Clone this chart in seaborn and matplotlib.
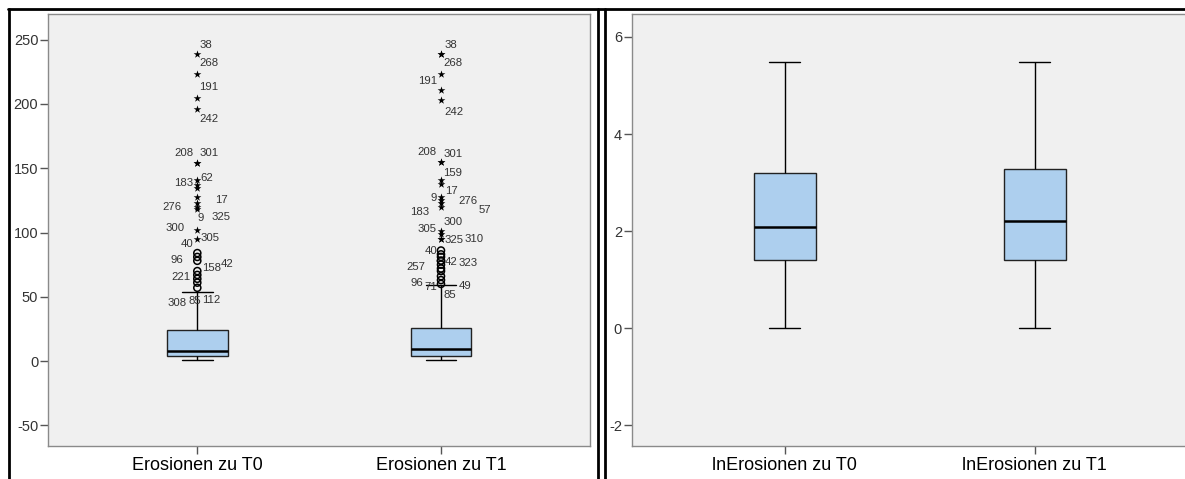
import numpy as np
import pandas as pd
import matplotlib
matplotlib.use("Agg")
import matplotlib.pyplot as plt
import seaborn as sns
from matplotlib.lines import Line2D

# ---------------- data ----------------
raw_categories = ["Erosionen zu T0", "Erosionen zu T1"]
ln_categories = ["lnErosionen zu T0", "lnErosionen zu T1"]

# five-number summaries: [lower whisker, Q1, median, Q3, upper whisker]
raw_t0_summary = [1, 4, 8, 24, 54]
raw_t1_summary = [1, 4, 9, 26, 59]
ln_t0_summary = [0.0, 1.40, 2.09, 3.19, 5.48]
ln_t1_summary = [0.0, 1.40, 2.21, 3.27, 5.48]

# extreme values (stars) and outliers (circles)
raw_t0_extremes = [239, 223, 205, 196, 154, 154, 141, 137, 135, 128, 123, 120, 118, 102, 95]
raw_t0_outliers = [84, 81, 78, 70, 67, 64, 61, 57]
raw_t1_extremes = [239, 239, 223, 211, 203, 155, 155, 141, 138, 128, 125, 123, 120, 101, 99, 95, 95]
raw_t1_outliers = [86, 83, 81, 78, 78, 75, 72, 70, 66, 63, 60]

# case labels and the value of the point each one marks
raw_t0_label_ids = ["38", "268", "191", "242", "208", "301", "62", "183", "17", "276", "9",
                    "325", "300", "305", "40", "96", "42", "158", "221", "308", "85", "112"]
raw_t0_label_values = [239, 223, 205, 196, 154, 154, 141, 137, 128, 123, 118,
                       118, 102, 95, 84, 81, 78, 70, 67, 57, 57, 57]
raw_t1_label_ids = ["38", "268", "191", "242", "208", "301", "159", "17", "9", "276", "57",
                    "183", "300", "305", "325", "310", "40", "42", "323", "257", "96", "71",
                    "49", "85"]
raw_t1_label_values = [239, 239, 223, 203, 155, 155, 141, 138, 128, 125, 123,
                       120, 101, 99, 95, 95, 86, 78, 78, 75, 60, 60, 60, 60]

raw_yticks = [-50, 0, 50, 100, 150, 200, 250]
ln_yticks = [-2, 0, 2, 4, 6]

# ---------------- layout / style ----------------
W, H = 1185, 479
BOX_FILL = "#ADCFEE"
FACE = "#F0F0F0"
SPINE = "#8A8A8A"
TXT = "#333333"

# label offsets in pixels (dx right, dy down)
t0_label_offsets = [(9, -9), (12, -11), (11, -11), (12, 10), (-13, -10), (12, -10), (9, -2),
                    (-14, -2), (24, 3), (-25, 4), (3, 9), (24, 8), (-22, -2), (13, -1),
                    (-10, -9), (-20, 3), (30, 3), (14, -3), (-16, 2), (-20, 15), (-2, 13), (14, 12)]
t1_label_offsets = [(10, -9), (12, 9), (-13, 7), (13, 12), (-14, -10), (12, -8), (12, -7),
                    (10, 7), (-7, 1), (27, 1), (44, 7), (-21, 5), (12, -9), (-14, -5),
                    (13, 1), (33, 0), (-10, 0), (10, 1), (27, 2), (-25, 2), (-24, -1),
                    (-10, 3), (24, 2), (9, 11)]

sns.set_theme(style="white")
plt.rcParams["font.family"] = ["Liberation Sans", "DejaVu Sans"]

fig = plt.figure(figsize=(W / 100, H / 100), dpi=100)
fig.patch.set_facecolor("white")


def fx(x):
    return x / W


def fy(y):
    return 1 - y / H


ax_top, ax_bot = 14, 445.5
ax1 = fig.add_axes([fx(48), fy(ax_bot), fx(590.3 - 48), (ax_bot - ax_top) / H])
ax2 = fig.add_axes([fx(631.7), fy(ax_bot), fx(1188 - 631.7), (ax_bot - ax_top) / H])


def draw_box(ax, cats, s0, s1):
    df = pd.DataFrame({cats[0]: s0, cats[1]: s1})
    sns.boxplot(data=df, ax=ax, width=0.25, whis=(0, 100), color=BOX_FILL,
                saturation=1, linecolor="black", linewidth=1.0, fliersize=0,
                medianprops={"linewidth": 1.8, "color": "black"},
                boxprops={"edgecolor": "#222222"})


draw_box(ax1, raw_categories, raw_t0_summary, raw_t1_summary)
draw_box(ax2, ln_categories, ln_t0_summary, ln_t1_summary)

# outliers on raw panel
for i, (ext, out) in enumerate([(raw_t0_extremes, raw_t0_outliers),
                                (raw_t1_extremes, raw_t1_outliers)]):
    sns.scatterplot(x=[i] * len(out), y=out, ax=ax1, marker="o", s=26,
                    color="black", legend=False, zorder=5)
    coll = ax1.collections[-1]
    coll.set_facecolor("none")
    coll.set_edgecolor("black")
    coll.set_linewidth(1.1)
    sns.scatterplot(x=[i] * len(ext), y=ext, ax=ax1, marker="*", s=34,
                    color="black", linewidth=0, legend=False, zorder=6)

for i, (ids, vals, offs) in enumerate([(raw_t0_label_ids, raw_t0_label_values, t0_label_offsets),
                                       (raw_t1_label_ids, raw_t1_label_values, t1_label_offsets)]):
    for lab, v, (dx, dy) in zip(ids, vals, offs):
        ax1.annotate(lab, xy=(i, v), xytext=(dx, -dy), textcoords="offset pixels",
                     ha="center", va="center", fontsize=8.2, color=TXT, zorder=7)

for ax, lim, ticks in [(ax1, (-65.7, 270.0), raw_yticks), (ax2, (-2.413, 6.471), ln_yticks)]:
    ax.set_facecolor(FACE)
    ax.set_xlim(-0.6127, 1.6127)
    ax.set_ylim(*lim)
    ax.set_yticks(ticks)
    ax.set_yticklabels([str(t) for t in ticks])
    ax.set_xlabel("")
    ax.set_ylabel("")
    for sp in ax.spines.values():
        sp.set_visible(True)
        sp.set_color(SPINE)
        sp.set_linewidth(1.0)
    ax.tick_params(axis="y", direction="out", length=6, width=1, color="#555555",
                   pad=1, labelsize=10.5, labelcolor=TXT, left=True)
    ax.tick_params(axis="x", direction="out", length=6, width=1, color="#555555",
                   pad=2.5, labelsize=13, labelcolor="black", bottom=True)
    ax.grid(False)

# panel frames
frame_kw = dict(color="black", linewidth=2.0, transform=fig.transFigure, clip_on=False)
fig.add_artist(Line2D([fx(8.7), fx(8.7)], [fy(8.5), 0], **frame_kw))
fig.add_artist(Line2D([fx(7.7), 1], [fy(9.2), fy(9.2)], **frame_kw))
fig.add_artist(Line2D([fx(598.0), fx(598.0)], [fy(8.5), 0], **frame_kw))
fig.add_artist(Line2D([fx(604.5), fx(604.5)], [fy(8.5), 0], **frame_kw))

fig.savefig("out.png", dpi=100, facecolor="white")
